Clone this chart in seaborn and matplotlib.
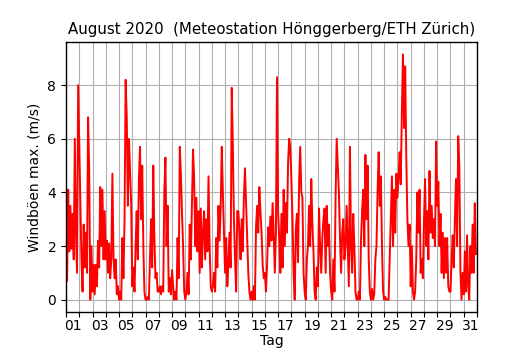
import matplotlib
matplotlib.use("Agg")
import matplotlib.pyplot as plt
import matplotlib.dates as mdates
import matplotlib.ticker as mticker
import numpy as np
import pandas as pd
import seaborn as sns

# 2-hourly readings (00,02,...,22 h) of max wind gust, m/s, per day of August 2020
aug01 = [4.3, 0.7, 4.1, 1.8, 3.5, 1.9, 3.2, 1.5, 6.0, 2.5, 1.0, 8.0]
aug02 = [5.8, 3.5, 1.5, 0.3, 2.8, 1.2, 2.5, 1.0, 6.8, 4.9, 0.0, 2.0]
aug03 = [0.3, 1.3, 0.2, 1.3, 0.5, 2.2, 1.2, 4.2, 2.0, 4.1, 1.5, 3.3]
aug04 = [1.5, 2.2, 1.0, 2.1, 0.8, 1.5, 4.7, 1.6, 0.8, 1.5, 0.2, 0.5]
aug05 = [0.0, 0.3, 0.0, 2.3, 0.8, 3.0, 8.2, 6.8, 3.5, 6.0, 4.8, 3.6]
aug06 = [0.5, 1.2, 0.3, 2.0, 3.3, 1.5, 4.5, 5.7, 3.0, 5.0, 2.0, 0.3]
aug07 = [0.0, 0.0, 0.1, 0.0, 1.5, 3.0, 1.2, 5.0, 2.3, 0.8, 1.0, 0.3]
aug08 = [0.3, 0.5, 0.2, 0.5, 0.3, 4.0, 5.3, 2.0, 3.5, 0.3, 0.8, 0.2]
aug09 = [1.1, 0.5, 0.0, 0.3, 0.0, 2.3, 0.8, 5.7, 4.7, 3.2, 2.0, 0.3]
aug10 = [0.0, 0.3, 1.0, 0.2, 2.8, 1.5, 3.5, 5.6, 4.5, 2.0, 3.8, 1.8]
aug11 = [3.3, 1.0, 3.4, 1.2, 2.5, 3.3, 1.5, 3.0, 1.8, 4.6, 2.0, 0.5]
aug12 = [0.3, 0.5, 1.0, 0.3, 2.3, 1.2, 3.5, 2.2, 3.4, 5.7, 4.0, 2.5]
aug13 = [1.0, 2.3, 0.5, 1.3, 2.5, 1.2, 7.9, 5.8, 3.0, 1.5, 0.3, 3.3]
aug14 = [3.3, 2.5, 1.5, 3.0, 1.8, 3.8, 4.9, 3.6, 2.3, 1.0, 0.3, 0.0]
aug15 = [0.3, 0.0, 0.5, 0.0, 2.7, 3.5, 2.5, 4.2, 3.3, 2.5, 1.3, 0.8]
aug16 = [1.0, 0.3, 1.3, 2.7, 2.0, 3.1, 2.2, 3.6, 2.5, 1.0, 2.5, 8.3]
aug17 = [3.2, 2.3, 1.0, 3.2, 1.2, 4.1, 2.0, 3.6, 2.5, 5.1, 6.0, 5.7]
aug18 = [4.5, 3.0, 1.0, 0.0, 2.6, 3.2, 1.4, 4.4, 5.7, 4.0, 3.8, 1.0]
aug19 = [0.3, 0.0, 1.5, 2.0, 3.5, 2.0, 4.5, 2.8, 1.8, 0.3, 0.0, 1.2]
aug20 = [0.5, 3.4, 2.0, 1.0, 2.3, 3.0, 3.4, 1.0, 3.5, 2.0, 2.8, 1.0]
aug21 = [0.3, 0.0, 1.5, 0.3, 3.8, 6.0, 5.0, 4.0, 2.3, 1.0, 2.5, 3.0]
aug22 = [1.5, 2.0, 3.5, 2.0, 0.5, 5.7, 2.0, 1.0, 3.2, 2.0, 0.3, 0.0]
aug23 = [0.0, 0.3, 0.0, 2.2, 3.3, 4.1, 2.0, 5.4, 3.0, 5.0, 1.5, 0.3]
aug24 = [0.0, 0.4, 0.0, 0.2, 1.5, 2.0, 4.0, 5.5, 3.5, 4.6, 2.0, 0.3]
aug25 = [0.0, 0.1, 0.0, 0.0, 0.0, 1.5, 3.0, 4.6, 2.0, 4.1, 2.5, 4.7]
aug26 = [3.8, 4.6, 5.5, 4.3, 7.0, 9.15, 6.4, 8.7, 5.3, 3.0, 2.0, 2.8]
aug27 = [0.5, 2.0, 0.3, 0.0, 0.3, 1.5, 4.0, 2.5, 4.1, 1.0, 1.5, 0.8]
aug28 = [2.9, 4.5, 2.0, 3.3, 1.5, 4.8, 2.5, 3.5, 2.3, 3.0, 2.0, 5.9]
aug29 = [3.5, 4.4, 2.0, 3.2, 1.0, 2.5, 0.8, 2.3, 1.0, 2.3, 0.5, 0.3]
aug30 = [0.3, 1.5, 2.4, 1.2, 3.1, 4.5, 2.0, 6.1, 5.0, 1.0, 0.0, 1.0]
aug31 = [0.2, 1.8, 0.3, 2.4, 0.5, 0.0, 2.0, 1.0, 2.8, 1.0, 3.6, 1.7]

days = [aug01, aug02, aug03, aug04, aug05, aug06, aug07, aug08, aug09, aug10,
        aug11, aug12, aug13, aug14, aug15, aug16, aug17, aug18, aug19, aug20,
        aug21, aug22, aug23, aug24, aug25, aug26, aug27, aug28, aug29, aug30, aug31]
gust = [v for d in days for v in d]
times = pd.date_range("2020-08-01 00:00", periods=len(gust), freq="2h")
df = pd.DataFrame({"Zeit": times, "Windboeen": gust})

title = "August 2020  (Meteostation Hönggerberg/ETH Zürich)"
xlabel = "Tag"
ylabel = "Windböen max. (m/s)"
odd_days = list(range(1, 32, 2))
day_labels = [f"{d:02d}" for d in odd_days]

plt.rcParams["font.family"] = ["DejaVu Sans"]
fig = plt.figure(figsize=(5.3, 3.5), dpi=100)
ax = fig.add_axes([0.1245, 0.1086, 0.7755, 0.7714])

sns.lineplot(data=df, x="Zeit", y="Windboeen", color="#ff0000", linewidth=1.4, ax=ax)

start = pd.Timestamp("2020-08-01")
end = pd.Timestamp("2020-09-01")
ax.set_xlim(start, end)
ax.set_ylim(-0.46, 9.61)
ax.set_yticks([0, 2, 4, 6, 8])

ax.xaxis.set_major_locator(mdates.DayLocator())
ax.xaxis.set_major_formatter(mticker.NullFormatter())
label_pos = [mdates.date2num(pd.Timestamp(2020, 8, d) + pd.Timedelta(hours=13)) for d in odd_days]
ax.xaxis.set_minor_locator(mticker.FixedLocator(label_pos))
ax.xaxis.set_minor_formatter(mticker.FixedFormatter(day_labels))
ax.tick_params(axis="x", which="minor", length=0, labelsize=10, pad=5.0)
ax.tick_params(axis="x", which="major", length=3.5)
ax.tick_params(axis="y", labelsize=10, length=3.5)

ax.grid(True, which="major", color="#b0b0b0", linewidth=0.8)
ax.set_axisbelow(True)
for s in ax.spines.values():
    s.set_visible(True)
    s.set_color("black")
    s.set_linewidth(1.0)

ax.set_title(title, fontsize=10.8)
ax.set_xlabel(xlabel, fontsize=10, labelpad=1)
ax.set_ylabel(ylabel, fontsize=10)

fig.savefig("out.png", dpi=100)
